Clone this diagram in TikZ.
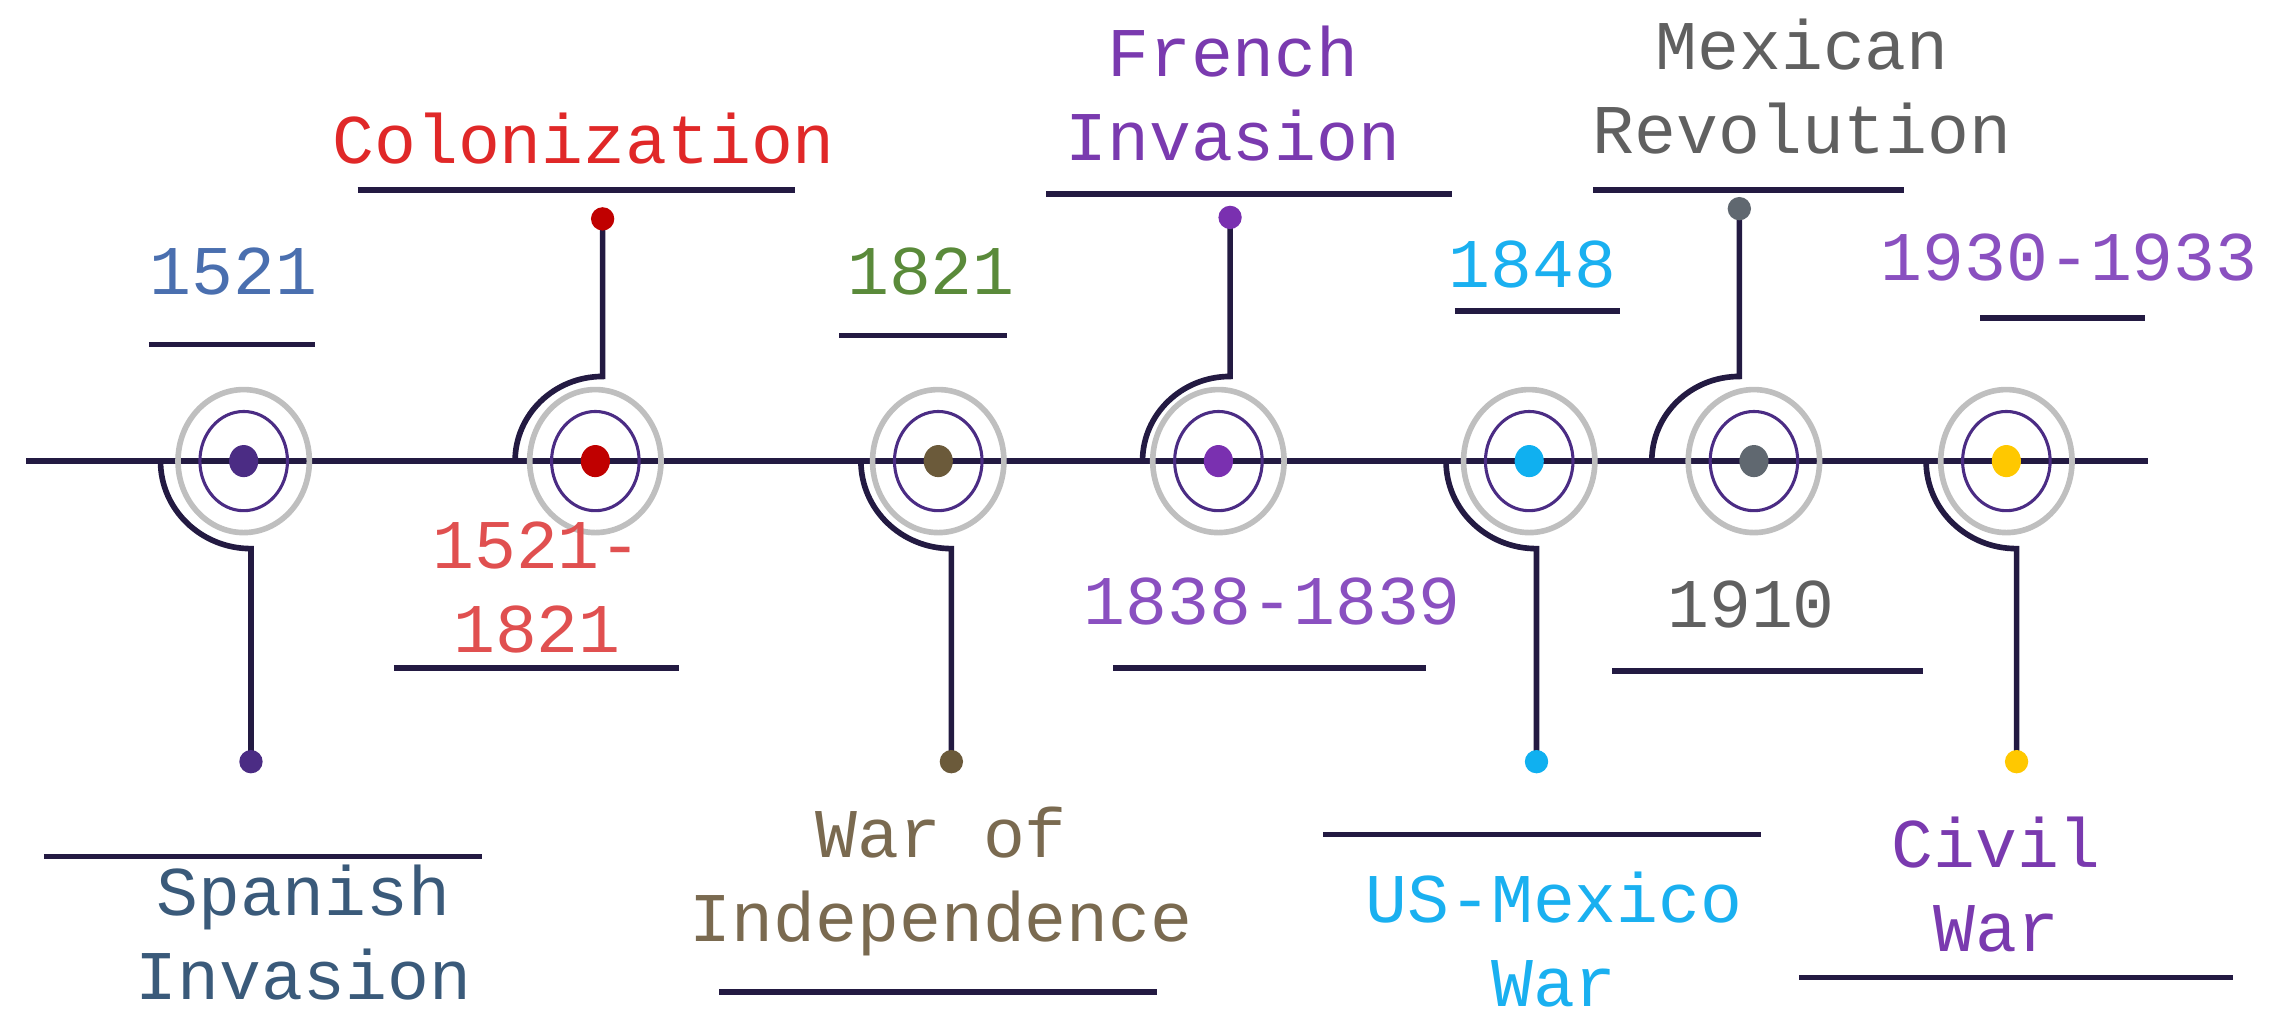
\documentclass[tikz,border=0pt]{standalone}
\usepackage{fontspec}
\setmonofont{Liberation Mono}
\begin{document}
\begin{tikzpicture}[x=0.01cm,y=-0.01cm,
  ln/.style={draw=lineC,line width=1.1pt},
  lab/.style={font=\ttfamily\fontsize{13.6}{16.4}\selectfont,inner sep=0pt,anchor=base,align=center},
  gray/.style={draw=gray!50,line width=1.1pt},
  inner/.style={draw=ring,line width=0.6pt}]
\definecolor{lineC}{HTML}{231A42}
\definecolor{ring}{HTML}{4B2C84}
\useasboundingbox (0,0) rectangle (1568,710);
\draw[ln] (18,316) coordinate (L) -- (1472,316) coordinate (R);
\newcommand\evt[3]{%
  \coordinate (#1) at (#2,316);
  \draw[gray] (#1) ellipse [x radius=45,y radius=49];
  \draw[inner] (#1) ellipse [x radius=30,y radius=34];
  \fill[#3] (#1) ellipse [x radius=10,y radius=11];
}
\definecolor{c1}{HTML}{4B2C84}\definecolor{c2}{HTML}{C00000}
\definecolor{c3}{HTML}{6B5A3A}\definecolor{c4}{HTML}{7A30B0}
\definecolor{c5}{HTML}{10B0F0}\definecolor{c6}{HTML}{606870}
\definecolor{c7}{HTML}{FFC800}
\evt{e1}{167}{c1}\evt{e2}{408}{c2}\evt{e3}{643}{c3}
\evt{e4}{835}{c4}\evt{e5}{1048}{c5}\evt{e6}{1202}{c6}\evt{e7}{1375}{c7}
\foreach \n/\sx/\c in {1/172/c1,3/652/c3,5/1053/c5,7/1382/c7}{
  \coordinate (a\n) at (\sx-62,316);
  \coordinate (d\n) at (\sx,522);
  \draw[ln] (a\n) arc[start angle=180,end angle=270,x radius=62,y radius=-60] -- (d\n);
  \fill[\c] (d\n) circle[radius=8];
}
\foreach \n/\sx/\dy/\c in {2/413/150/c2,4/843/149/c4,6/1192/143/c6}{
  \coordinate (a\n) at (\sx-60,316);
  \coordinate (d\n) at (\sx,\dy);
  \draw[ln] (a\n) arc[start angle=180,end angle=90,x radius=60,y radius=-58] -- (d\n);
  \fill[\c] (d\n) circle[radius=8];
}
\foreach \n/\xa/\xb/\yy in {l1/102/216/236,l2/245/545/130,l3/270/465/458,l4/30/330/587,
  l5/575/690/230,l6/493/793/680,l7/717/995/133,l8/763/977/458,l9/997/1110/213,
  l10/907/1207/572,l11/1092/1305/130,l12/1105/1318/460,l13/1357/1470/218,l14/1233/1530/670}{
  \draw[ln] (\xa,\yy) coordinate (\n a) -- (\xb,\yy) coordinate (\n b);
}
\definecolor{t1}{HTML}{4A6FAF}\definecolor{t2}{HTML}{E02828}
\definecolor{t3}{HTML}{E05050}\definecolor{t4}{HTML}{3A5A7A}
\definecolor{t5}{HTML}{5A8A3A}\definecolor{t6}{HTML}{7A6A50}
\definecolor{t7}{HTML}{7A3AAF}\definecolor{t8}{HTML}{8A50C0}
\definecolor{t9}{HTML}{1AB0F0}\definecolor{t10}{HTML}{606060}
\node[lab,text=t1] (n1) at (160,202) {1521};
\node[lab,text=t2] (n2) at (400,112) {Colonization};
\node[lab,text=t3] (n3) at (368,447) {1521-\\1821};
\node[lab,text=t4] (n4) at (208,685) {Spanish\\Invasion};
\node[lab,text=t5] (n5) at (638,202) {1821};
\node[lab,text=t6] (n6) at (645,645) {War of\\Independence};
\node[lab,text=t7] (n7) at (845,110) {French\\Invasion};
\node[lab,text=t8] (n8) at (872,428) {1838-1839};
\node[lab,text=t9] (n9) at (1050,197) {1848};
\node[lab,text=t9] (n10) at (1065,690) {US-Mexico\\War};
\node[lab,text=t10] (n11) at (1235,105) {Mexican\\Revolution};
\node[lab,text=t10] (n12) at (1200,430) {1910};
\node[lab,text=t8] (n13) at (1418,192) {1930-1933};
\node[lab,text=t7] (n14) at (1368,652) {Civil\\War};
\end{tikzpicture}
\end{document}
